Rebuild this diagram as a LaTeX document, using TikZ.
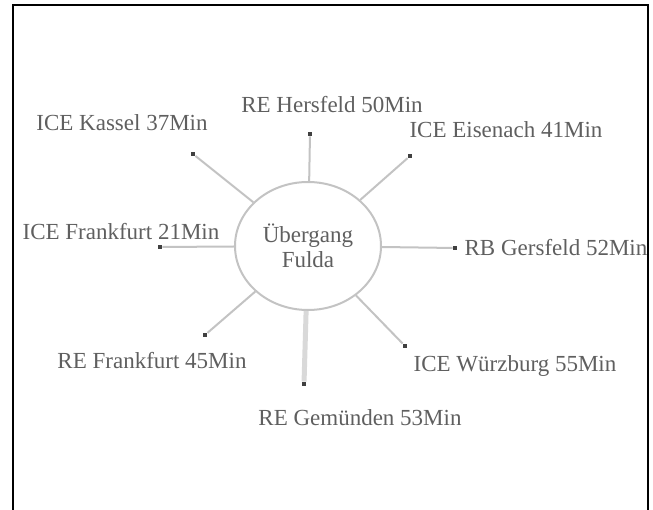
\documentclass[tikz,border=0pt]{standalone}
\usepackage{fontspec}
\setmainfont{Liberation Serif}
\usetikzlibrary{shapes.geometric}
\definecolor{SpokeGray}{RGB}{195,195,195}
\definecolor{TextGray}{RGB}{95,95,95}

\begin{document}
\begin{tikzpicture}[x=1pt,y=-1pt,
  hub/.style={draw=SpokeGray,line width=2pt,ellipse,minimum width=146pt,minimum height=128pt,text=TextGray,align=center,font=\fontsize{23}{25}\selectfont},
  stop/.style={rectangle,fill=black!75,minimum size=4.5pt,inner sep=0pt},
  lbl/.style={text=TextGray,inner sep=0pt,font=\fontsize{23}{25}\selectfont},
  spoke/.style={draw=SpokeGray,line width=2pt}]
\useasboundingbox (0,0) rectangle (653,510);
\draw[line width=2.5pt] (13,520)--(13,5)--(648,5)--(648,520);
\node[hub] (u) at (308,246) {Übergang\\Fulda};
% Haltepunkte
\node[stop] (her) at (310,134) {};
\node[stop] (kas) at (193,154) {};
\node[stop] (eis) at (410,156) {};
\node[stop] (ffa) at (160,247) {};
\node[stop] (ger) at (455,248) {};
\node[stop] (ffb) at (205,335) {};
\node[stop] (gem) at (304,384) {};
\node[stop] (wue) at (405,346) {};
\foreach \p in {her,kas,eis,ffa,ger,ffb,wue} \draw[spoke] (u)--(\p);
\draw[spoke,draw=black!15,line width=5pt] (u)--(gem);
% Beschriftungen
\node[lbl] (lher) at (332,105) {RE Hersfeld 50Min};
\node[lbl] (lkas) at (122,123) {ICE Kassel 37Min};
\node[lbl] (leis) at (506,130) {ICE Eisenach 41Min};
\node[lbl] (lffa) at (121,232) {ICE Frankfurt 21Min};
\node[lbl] (lger) at (556,248) {RB Gersfeld 52Min};
\node[lbl] (lffb) at (152,361) {RE Frankfurt 45Min};
\node[lbl] (lwue) at (515,366) {ICE Würzburg 55Min};
\node[lbl] (lgem) at (360,418) {RE Gemünden 53Min};
\end{tikzpicture}
\end{document}
